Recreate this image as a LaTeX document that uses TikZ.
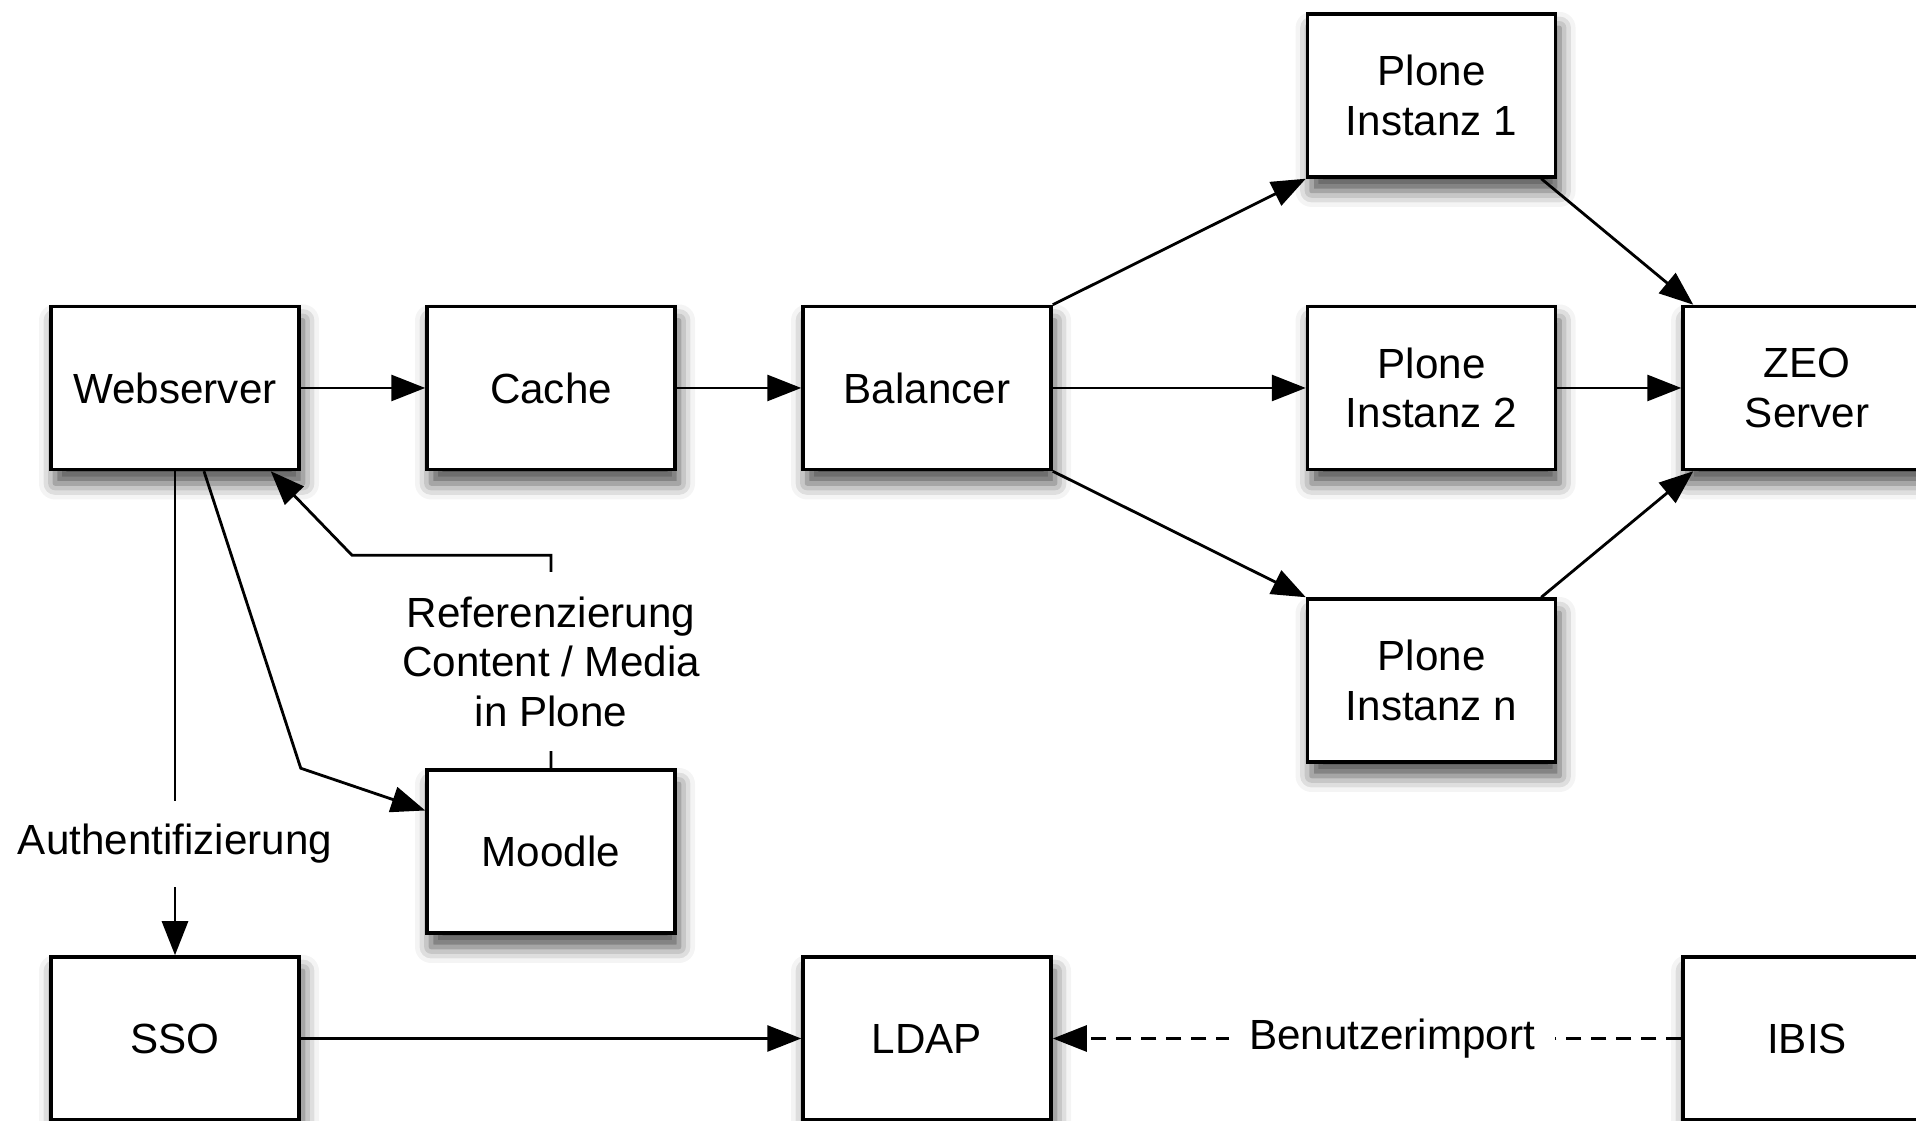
\documentclass[tikz,border=0pt]{standalone}
\usepackage{fontspec}
\setmainfont{Liberation Sans}
\usetikzlibrary{positioning,arrows.meta,shadows.blur}
\tikzset{
  every node/.style={font=\fontsize{12}{14}\selectfont},
  box/.style={draw, rectangle, line width=1pt, fill=white, minimum width=2.48cm, minimum height=1.63cm, align=center,
    blur shadow={shadow xshift=0.4mm, shadow yshift=-1.4mm, shadow blur radius=1.6mm, shadow opacity=70}},
  link/.style={line width=0.8pt, -{Triangle[length=3.4mm,width=2.6mm]}},
  dashline/.style={dash pattern=on 0.15cm off 0.1cm},
  note/.style={fill=white, align=center}
}
\begin{document}
\begin{tikzpicture}[node distance=1.245cm]
  \useasboundingbox (0,0) rectangle (19.16,11.21);
  \clip (0,0) rectangle (19.16,11.21);

  % obere Reihe
  \node (web) [box] at (1.75,7.33) {Webserver};
  \node (cache) [box, right=of web] {Cache};
  \node (bal) [box, right=of cache] {Balancer};
  % Plone-Instanzen
  \node (p2) [box, right=2.53cm of bal] {Plone\\Instanz 2};
  \node (p1) [box, above=1.26cm of p2] {Plone\\Instanz 1};
  \node (pn) [box, below=1.26cm of p2] {Plone\\Instanz n};
  \node (zeo) [box, right=1.24cm of p2] {ZEO\\Server};
  % untere Reihe
  \node (moodle) [box, below=2.97cm of cache] {Moodle};
  \node (sso) [box, below=4.84cm of web] {SSO};
  \node (ldap) [box, below=4.84cm of bal] {LDAP};
  \node (ibis) [box, below=4.84cm of zeo] {IBIS};

  % Verbindungen
  \draw[link] (web) -- (cache);
  \draw[link] (cache) -- (bal);
  \draw[link] (bal) -- (p2);
  \draw[link] (bal.north east) -- (p1.south west);
  \draw[link] (bal.south east) -- (pn.north west);
  \draw[link] ([xshift=-0.16cm]p1.south east) -- ([xshift=0.12cm]zeo.north west);
  \draw[link] (p2) -- (zeo);
  \draw[link] ([xshift=-0.16cm]pn.north east) -- ([xshift=0.12cm]zeo.south west);
  \draw[link] (web) -- node[note, pos=0.77, inner xsep=0.05cm, inner ysep=0.23cm] {Authentifizierung} (sso);
  \draw[link] ([xshift=0.29cm]web.south) -- (web.east |- moodle.north) -- ([yshift=0.41cm]moodle.west);
  \draw[link] (moodle.north) -- node[note, inner ysep=0.25cm] {Referenzierung\\Content / Media\\in Plone} ++(0,2.13)
    -- ++(-1.99,0) -- ([xshift=-0.3cm]web.south east);
  \draw[link] (sso) -- (ldap);
  \draw[link, dashline] (ibis) -- node[note, pos=0.46, inner xsep=0.2cm] {Benutzerimport} (ldap);

\end{tikzpicture}
\end{document}
